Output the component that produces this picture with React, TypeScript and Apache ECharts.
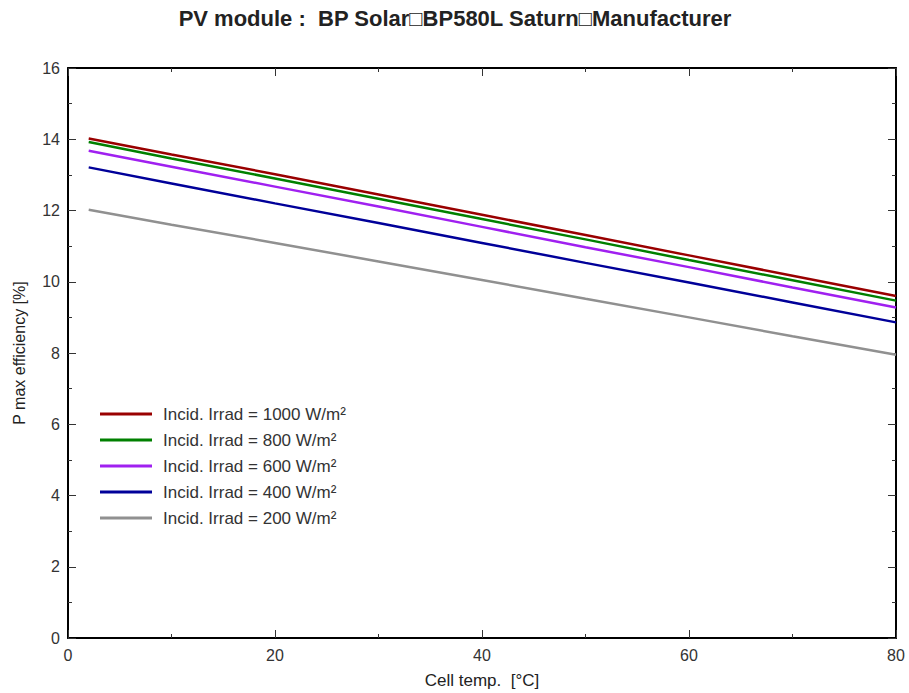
import React, { useEffect, useRef } from "react";
import * as echarts from "echarts";

const temps = [2, 10, 20, 30, 40, 50, 60, 70, 80];
const eff1000 = [14.02, 13.57, 13.02, 12.45, 11.88, 11.31, 10.74, 10.17, 9.6];
const eff800 = [13.92, 13.46, 12.9, 12.33, 11.76, 11.19, 10.61, 10.04, 9.47];
const eff600 = [13.68, 13.23, 12.67, 12.11, 11.54, 10.97, 10.41, 9.84, 9.28];
const eff400 = [13.21, 12.76, 12.2, 11.65, 11.09, 10.53, 9.98, 9.42, 8.86];
const eff200 = [12.02, 11.6, 11.09, 10.57, 10.05, 9.52, 9.0, 8.47, 7.95];

const seriesNames = [
  "Incid. Irrad = 1000 W/m²",
  "Incid. Irrad = 800 W/m²",
  "Incid. Irrad = 600 W/m²",
  "Incid. Irrad = 400 W/m²",
  "Incid. Irrad = 200 W/m²",
];
const seriesColors = ["#990000", "#008000", "#a020f0", "#000099", "#909090"];
const seriesData = [eff1000, eff800, eff600, eff400, eff200];

const titleText = "PV module :  BP Solar\u25a1BP580L Saturn\u25a1Manufacturer";
const xName = "Cell temp.  [°C]";
const yName = "P max efficiency [%]";

export default function App() {
  const ref = useRef<HTMLDivElement>(null);
  useEffect(() => {
    if (!ref.current) return;
    const chart = echarts.init(ref.current, null, { renderer: "svg" });
    const font = "Liberation Sans, Arial, sans-serif";
    const axisCommon = {
      type: "value",
      axisLine: { show: true, onZero: false, lineStyle: { color: "#000", width: 2 } },
      axisTick: { show: true, inside: true, length: 8, lineStyle: { color: "#333", width: 1 } },
      minorTick: { show: true, splitNumber: 2, length: 4, lineStyle: { color: "#333", width: 1 } },
      splitLine: { show: false },
      minorSplitLine: { show: false },
    };
    chart.setOption({
      animation: false,
      backgroundColor: "#fff",
      title: {
        text: titleText,
        left: 455,
        textAlign: "center",
        top: 7,
        padding: 0,
        textStyle: { fontFamily: font, fontSize: 22, lineHeight: 22, fontWeight: "bold", color: "#222" },
      },
      grid: { left: 68, right: 13, top: 68, bottom: 55, outerBoundsMode: "none", containLabel: false },
      legend: {
        orient: "vertical",
        left: 95,
        top: 400,
        icon: "rect",
        itemWidth: 52,
        itemHeight: 3,
        itemGap: 8,
        textStyle: { fontFamily: font, fontSize: 17, color: "#333", lineHeight: 18, padding: [0, 0, 0, 6] },
        data: seriesNames,
      },
      xAxis: [
        {
          ...axisCommon,
          position: "bottom",
          min: 0,
          max: 80,
          interval: 20,
          name: xName,
          nameLocation: "middle",
          nameGap: 34,
          nameTextStyle: { fontFamily: font, fontSize: 17, color: "#222" },
          axisLabel: { fontFamily: font, fontSize: 16, color: "#333", margin: 9 },
        },
        {
          ...axisCommon,
          position: "top",
          min: 0,
          max: 80,
          interval: 20,
          axisLabel: { show: false },
        },
      ],
      yAxis: [
        {
          ...axisCommon,
          position: "left",
          min: 0,
          max: 16,
          interval: 2,
          name: yName,
          nameLocation: "middle",
          nameGap: 41,
          nameTextStyle: { fontFamily: font, fontSize: 16, color: "#222" },
          axisLabel: { fontFamily: font, fontSize: 16, color: "#333", margin: 8 },
        },
        {
          ...axisCommon,
          position: "right",
          min: 0,
          max: 16,
          interval: 2,
          axisLabel: { show: false },
        },
      ],
      series: seriesNames.map((name, i) => ({
        name,
        type: "line",
        showSymbol: false,
        symbol: "none",
        color: seriesColors[i],
        lineStyle: { color: seriesColors[i], width: 2.5 },
        data: temps.map((t, j) => [t, seriesData[i][j]]),
        z: 10 - i,
      })),
    });
    return () => chart.dispose();
  }, []);
  return (
    <div
      ref={ref}
      style={{ position: "absolute", left: 0, top: 0, width: 909, height: 693 }}
    />
  );
}
